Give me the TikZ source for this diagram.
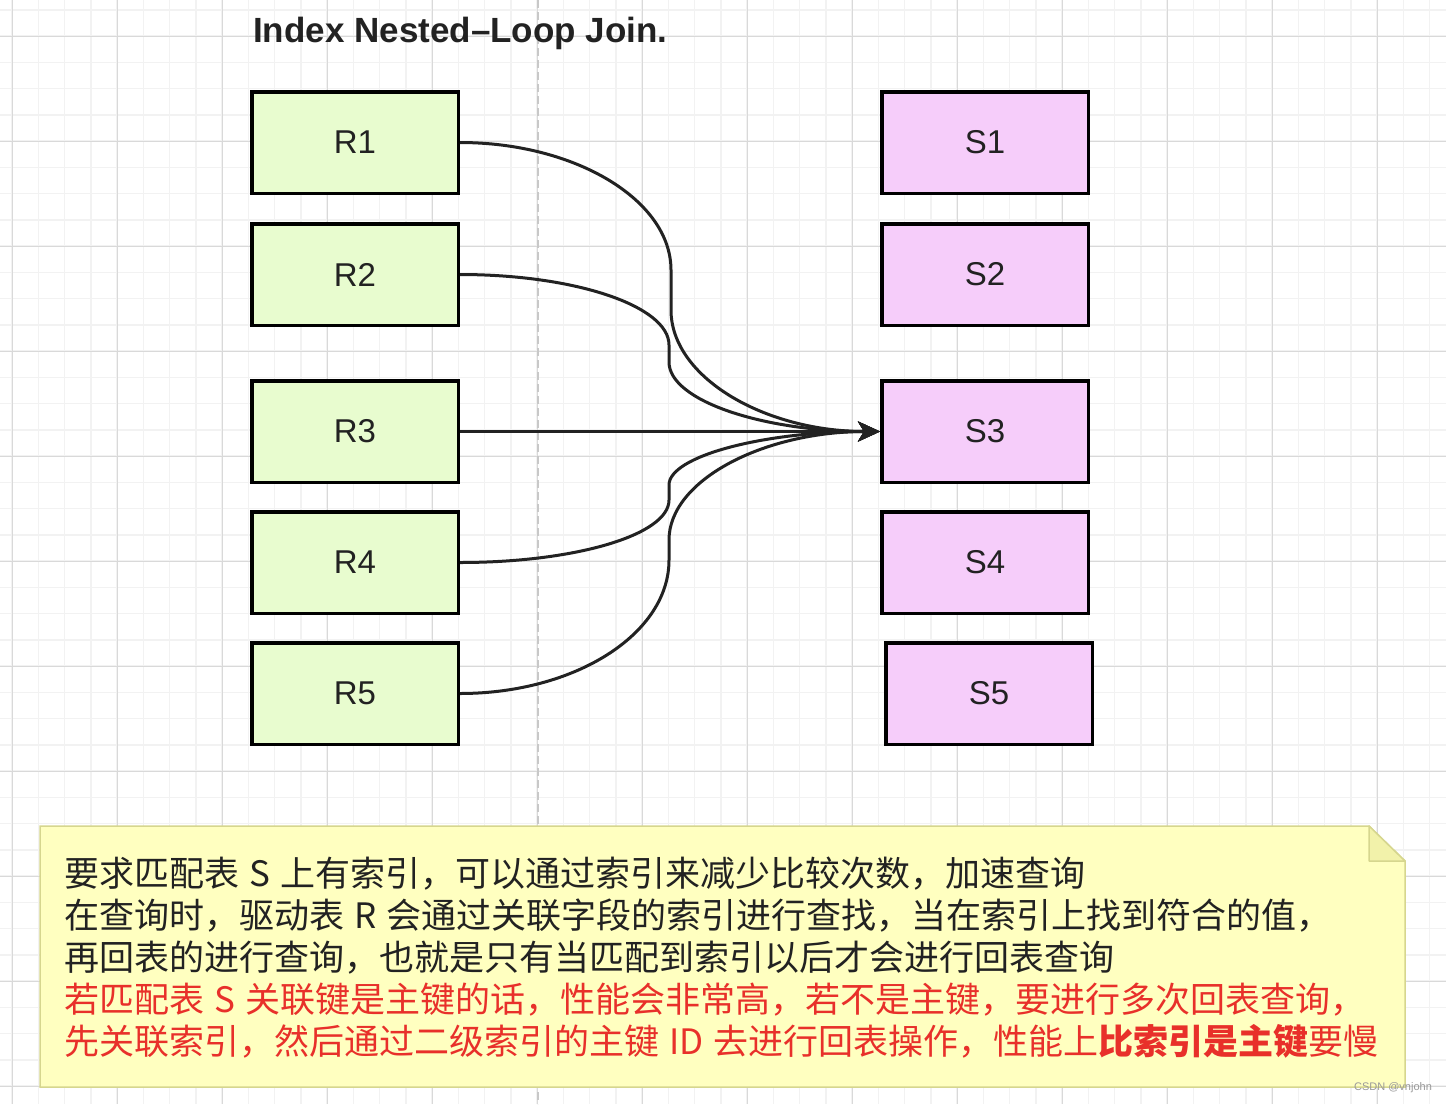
\documentclass[tikz,border=0pt]{standalone}
\usepackage{fontspec}
\setmainfont{Liberation Sans}
\newfontfamily\cjk{Noto Sans CJK SC}
\usetikzlibrary{arrows.meta}
\definecolor{rfill}{HTML}{E8FCCF}
\definecolor{sfill}{HTML}{F6CDFA}
\definecolor{notefill}{HTML}{FFFFC0}
\definecolor{notedraw}{HTML}{D6D68E}
\definecolor{foldfill}{HTML}{F2F2AA}
\definecolor{txtred}{HTML}{E8302A}
\definecolor{ink}{HTML}{222222}
\definecolor{gmin}{HTML}{F2F2F2}
\definecolor{gmaj}{HTML}{D9D9D9}
\definecolor{dashgray}{HTML}{C8C8C8}
\newcommand{\wsp}{\hspace{10pt}}
\tikzset{
  rbox/.style={draw=black, line width=3.5pt, fill=rfill, minimum width=206.5pt, minimum height=101.5pt, inner sep=0pt, font=\fontsize{33}{33}\selectfont, text=ink},
  sbox/.style={rbox, fill=sfill},
  conn/.style={draw=ink, line width=3pt, -{Stealth[length=22pt,width=20pt,inset=6pt]}},
  noteline/.style={anchor=base west, inner sep=0pt, font=\cjk\fontsize{35}{35}\selectfont},
  gridmin/.style={draw=gmin, line width=1.5pt},
  gridmaj/.style={draw=gmaj, line width=1pt}
}
\begin{document}
\begin{tikzpicture}[x=1pt,y=-1pt]
\useasboundingbox (0,0) rectangle (1446,1104);
\fill[white] (0,0) rectangle (1446,1104);
% grid
\foreach \i in {0,...,55} { \draw[gridmin] ({12+26.25*\i},0) -- ({12+26.25*\i},1104); }
\foreach \j in {0,...,42} { \draw[gridmin] (0,{9.75+26.25*\j}) -- (1446,{9.75+26.25*\j}); }
\foreach \k in {0,...,13} { \draw[gridmaj] ({12+105*\k},0) -- ({12+105*\k},1104); }
\foreach \k in {0,...,10} { \draw[gridmaj] (0,{36+105*\k}) -- (1446,{36+105*\k}); }
\draw[draw=dashgray, line width=1.5pt, dash pattern=on 8pt off 4pt] (538,0) -- (538,1104);

% title
\node[anchor=base west, inner sep=0pt, font=\fontsize{35}{35}\selectfont\bfseries, text=ink] (title) at (253,42) {Index Nested–Loop Join.};

% R boxes
\node[rbox] (R1) at (355,142.5) {R1};
\node[rbox] (R2) at (355,274.5) {R2};
\node[rbox] (R3) at (355,431.5) {R3};
\node[rbox] (R4) at (355,562.5) {R4};
\node[rbox] (R5) at (355,693.5) {R5};
% S boxes
\node[sbox] (S1) at (985,142.5) {S1};
\node[sbox] (S2) at (985,274.5) {S2};
\node[sbox] (S3) at (985,431.5) {S3};
\node[sbox] (S4) at (985,562.5) {S4};
\node[sbox] (S5) at (989,693.5) {S5};

% bend points
\coordinate (k1a) at (671,270); \coordinate (k1b) at (671,310);
\coordinate (k2a) at (669,345); \coordinate (k2b) at (669,362);
\coordinate (k4a) at (669,500); \coordinate (k4b) at (669,485);
\coordinate (k5a) at (669,560); \coordinate (k5b) at (669,540);

\draw[conn] (R1.east) .. controls +(115,0) and +(0,-70) .. (k1a) -- (k1b) .. controls +(0,67) and +(-116,0) .. (S3.west);
\draw[conn] (R2.east) .. controls +(115,0) and +(0,-39) .. (k2a) -- (k2b) .. controls +(0,39) and +(-116,0) .. (S3.west);
\draw[conn] (R3.east) -- (S3.west);
\draw[conn] (R4.east) .. controls +(115,0) and +(0,35) .. (k4a) -- (k4b) .. controls +(0,-29) and +(-116,0) .. (S3.west);
\draw[conn] (R5.east) .. controls +(115,0) and +(0,74) .. (k5a) -- (k5b) .. controls +(0,-60) and +(-116,0) .. (S3.west);

% note
\draw[fill=notefill, draw=notedraw, line width=1.5pt] (40,826) -- (1369,826) -- (1405,861) -- (1405,1087) -- (40,1087) -- cycle;
\draw[fill=foldfill, draw=notedraw, line width=1.5pt, line join=round] (1369,826) -- (1369,861) -- (1405,861) -- cycle;

\node[noteline, text=ink] (n1) at (64,886) {要求匹配表\wsp S\wsp 上有索引，可以通过索引来减少比较次数，加速查询};
\node[noteline, text=ink] (n2) at (64,928) {在查询时，驱动表\wsp R\wsp 会通过关联字段的索引进行查找，当在索引上找到符合的值，};
\node[noteline, text=ink] (n3) at (64,970) {再回表的进行查询，也就是只有当匹配到索引以后才会进行回表查询};
\node[noteline, text=txtred] (n4) at (64,1012) {若匹配表\wsp S\wsp 关联键是主键的话，性能会非常高，若不是主键，要进行多次回表查询，};
\node[noteline, text=txtred] (n5) at (64,1054) {先关联索引，然后通过二级索引的主键\wsp ID\wsp 去进行回表操作，性能上{\bfseries 比索引是主键}要慢};

% watermark
\node[anchor=center, inner sep=0pt, font=\fontsize{11}{11}\selectfont, text=gray!80] (wm) at (1393,1088) {CSDN @vnjohn};
\end{tikzpicture}
\end{document}
